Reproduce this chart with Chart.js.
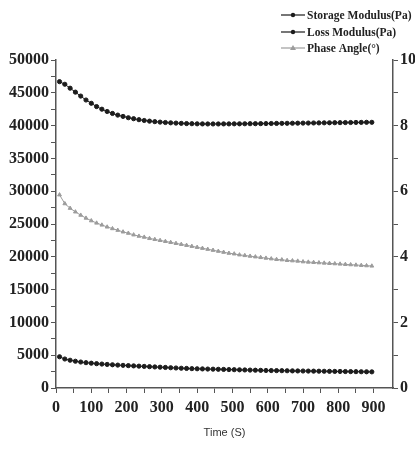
<!DOCTYPE html>
<html lang="en">
<head>
  <meta charset="UTF-8">
  <title>Modulus vs Time</title>
  <script src="https://cdn.jsdelivr.net/npm/chart.js"></script>
  <style>
    body {
      margin: 0;
      background: #ffffff;
    }
    canvas {
      display: block;
    }
  </style>
</head>
<body>
  <canvas id="modChart" width="415" height="451"></canvas>

  <script>
    // time points (s)
    const times = [10, 25, 40, 55, 70, 85, 100, 115, 130, 145, 160, 175, 190, 205, 220, 235, 250, 265, 280, 295,
      310, 325, 340, 355, 370, 385, 400, 415, 430, 445, 460, 475, 490, 505, 520, 535, 550, 565, 580, 595,
      610, 625, 640, 655, 670, 685, 700, 715, 730, 745, 760, 775, 790, 805, 820, 835, 850, 865, 880, 895];

    const storageModulus = [46700, 46300, 45700, 45100, 44500, 43900, 43400, 42900, 42500, 42150, 41850, 41600, 41400, 41200, 41050, 40900, 40780, 40680, 40600, 40530,
      40470, 40420, 40380, 40340, 40310, 40290, 40270, 40260, 40250, 40250, 40250, 40260, 40260, 40270, 40270, 40280, 40290, 40290, 40300, 40310,
      40320, 40330, 40340, 40350, 40360, 40370, 40380, 40390, 40400, 40410, 40420, 40430, 40440, 40450, 40460, 40470, 40480, 40490, 40500, 40500];

    const lossModulus = [4760, 4420, 4230, 4080, 3960, 3860, 3780, 3710, 3650, 3590, 3540, 3490, 3450, 3410, 3370, 3330, 3290, 3250, 3210, 3170,
      3130, 3090, 3050, 3010, 2980, 2950, 2930, 2910, 2890, 2870, 2850, 2830, 2810, 2790, 2770, 2750, 2730, 2710, 2690, 2670,
      2660, 2650, 2640, 2630, 2610, 2600, 2590, 2580, 2570, 2560, 2550, 2540, 2530, 2520, 2510, 2500, 2490, 2480, 2470, 2460];

    const phaseAngle = [5.89, 5.62, 5.48, 5.37, 5.27, 5.18, 5.10, 5.03, 4.97, 4.91, 4.86, 4.81, 4.76, 4.72, 4.67, 4.63, 4.60, 4.56, 4.53, 4.50,
      4.47, 4.44, 4.41, 4.38, 4.35, 4.32, 4.29, 4.26, 4.23, 4.20, 4.17, 4.14, 4.11, 4.09, 4.06, 4.04, 4.02, 4.00, 3.98, 3.96,
      3.94, 3.92, 3.91, 3.89, 3.88, 3.87, 3.85, 3.84, 3.83, 3.82, 3.81, 3.80, 3.79, 3.78, 3.77, 3.76, 3.75, 3.74, 3.73, 3.72];

    const seriesNames = ['Storage Modulus(Pa)', 'Loss Modulus(Pa)', 'Phase Angle(°)'];

    const dark = '#1c1c1c';
    const grey = '#9c9c9c';
    const axisColor = '#555555';
    const labelFont = { family: '"Liberation Serif", "Times New Roman", serif', size: 16, weight: 'bold' };

    const toPoints = vals => vals.map((v, i) => ({ x: times[i], y: v }));

    // simple stacked legend at the top right
    const legendPlugin = {
      id: 'stackLegend',
      afterDraw(chart) {
        const ctx = chart.ctx;
        const rows = [15, 32, 48];
        chart.data.datasets.forEach((ds, i) => {
          const y = rows[i];
          ctx.save();
          ctx.strokeStyle = ds.borderColor;
          ctx.fillStyle = ds.borderColor;
          ctx.lineWidth = 1.2;
          ctx.beginPath();
          ctx.moveTo(281, y);
          ctx.lineTo(305, y);
          ctx.stroke();
          ctx.beginPath();
          if (ds.pointStyle === 'triangle') {
            ctx.moveTo(293, y - 3);
            ctx.lineTo(296, y + 2);
            ctx.lineTo(290, y + 2);
            ctx.closePath();
          } else {
            ctx.arc(293, y, 2.2, 0, Math.PI * 2);
          }
          ctx.fill();
          ctx.fillStyle = '#222';
          ctx.font = 'bold 11.5px "Liberation Serif", serif';
          ctx.textBaseline = 'middle';
          ctx.fillText(ds.label, 307, y + 1);
          ctx.restore();
        });
      }
    };

    new Chart(document.getElementById('modChart').getContext('2d'), {
      type: 'line',
      data: {
        datasets: [
          {
            label: seriesNames[0],
            data: toPoints(storageModulus),
            yAxisID: 'y',
            borderColor: dark,
            backgroundColor: dark,
            borderWidth: 1,
            pointRadius: 2.1,
            pointStyle: 'circle',
            tension: 0
          },
          {
            label: seriesNames[1],
            data: toPoints(lossModulus),
            yAxisID: 'y',
            borderColor: dark,
            backgroundColor: dark,
            borderWidth: 1,
            pointRadius: 2.1,
            pointStyle: 'circle',
            tension: 0
          },
          {
            label: seriesNames[2],
            data: toPoints(phaseAngle),
            yAxisID: 'y2',
            borderColor: grey,
            backgroundColor: grey,
            borderWidth: 1,
            pointRadius: 2.2,
            pointStyle: 'triangle',
            tension: 0
          }
        ]
      },
      options: {
        responsive: false,
        animation: false,
        layout: { padding: { top: 60, left: 0, right: 0, bottom: 0 } },
        plugins: {
          legend: { display: false },
          tooltip: { enabled: false }
        },
        scales: {
          x: {
            type: 'linear',
            min: 0,
            max: 955,
            afterBuildTicks: s => { s.ticks = s.ticks.filter(t => t.value % 50 === 0); },
            afterFit: s => { s.height = 63; },
            ticks: {
              stepSize: 50,
              autoSkip: false,
              maxRotation: 0,
              padding: 5,
              color: '#222',
              font: labelFont,
              callback: v => (v % 100 === 0 ? v : '')
            },
            grid: { drawOnChartArea: false, tickLength: 5, tickColor: axisColor },
            border: { color: axisColor, width: 1.5 },
            title: {
              display: true,
              text: 'Time (S)',
              color: '#333',
              font: { family: '"Liberation Sans", Arial, sans-serif', size: 11 },
              padding: { top: 0, bottom: 11 }
            }
          },
          y: {
            position: 'left',
            min: 0,
            max: 50000,
            afterFit: s => { s.width = 56; },
            ticks: {
              stepSize: 2500,
              autoSkip: false,
              padding: 2,
              color: '#222',
              font: labelFont,
              callback: v => (v % 5000 === 0 ? v : '')
            },
            grid: { drawOnChartArea: false, tickLength: 5, tickColor: axisColor },
            border: { color: axisColor, width: 1.5 }
          },
          y2: {
            position: 'right',
            min: 0,
            max: 10,
            afterFit: s => { s.width = 22; },
            ticks: {
              stepSize: 1,
              autoSkip: false,
              padding: 2,
              color: '#222',
              font: labelFont,
              callback: v => (v % 2 === 0 ? v : '')
            },
            grid: { drawOnChartArea: false, tickLength: 5, tickColor: axisColor },
            border: { color: axisColor, width: 1.5 }
          }
        }
      },
      plugins: [legendPlugin]
    });
  </script>
</body>
</html>
